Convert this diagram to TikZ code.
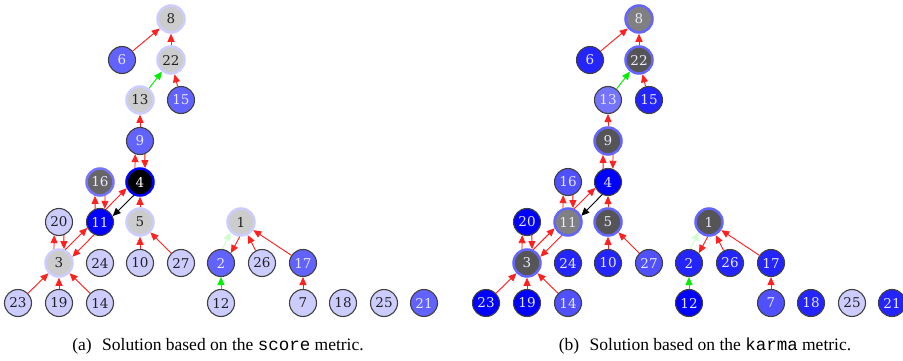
\documentclass[tikz,border=0pt]{standalone}
\usepackage{fontspec}
\setmainfont{Liberation Serif}
\setmonofont{Liberation Mono}
\newfontfamily\nodefont{DejaVu Serif}
\usetikzlibrary{arrows.meta}
\definecolor{cLav}{HTML}{CCCCFF}
\definecolor{cMedA}{HTML}{6262FF}
\definecolor{cBlue}{HTML}{0000FF}
\definecolor{cBtwo}{HTML}{2424FF}
\definecolor{cBfive}{HTML}{5050FF}
\definecolor{cBseven}{HTML}{7474FF}
\definecolor{cGrayL}{HTML}{CCCCCC}
\definecolor{cGrayM}{HTML}{808080}
\definecolor{cGrayD}{HTML}{555555}
\definecolor{cGsix}{HTML}{666666}
\definecolor{cHaloB}{HTML}{6464FF}
\definecolor{cBorder}{HTML}{404040}
\definecolor{cDark}{HTML}{222222}
\definecolor{cLight}{HTML}{E8E8FF}
\definecolor{cRed}{HTML}{FF2020}
\definecolor{cGreen}{HTML}{00EE00}
\definecolor{cPale}{HTML}{CCFFCC}
\newcommand\drawedges[1]{%
  \draw[re] (#16) -- (#18);
  \draw[re] (#122) -- (#18);
  \draw[ge] (#113) -- (#122);
  \draw[re] (#115) -- (#122);
  \draw[re] (#19) -- (#113);
  \draw[re] (#14.110) -- (#19.250);
  \draw[re] (#19.290) -- (#14.70);
  \draw[re] (#111.110) -- (#116.250);
  \draw[re] (#116.290) -- (#111.70);
  \draw[re] (#111.65) -- (#14.205);
  \draw[be] (#14.245) -- (#111.25);
  \draw[re] (#15) -- (#14);
  \draw[re] (#13.110) -- (#120.250);
  \draw[re] (#120.290) -- (#13.70);
  \draw[re] (#13.65) -- (#111.205);
  \draw[re] (#111.245) -- (#13.25);
  \draw[re] (#110) -- (#15);
  \draw[re] (#127) -- (#15);
  \draw[re] (#123) -- (#13);
  \draw[re] (#119) -- (#13);
  \draw[re] (#114) -- (#13);
  \draw[pe] (#12.85) -- (#11.225);
  \draw[re] (#11.265) -- (#12.45);
  \draw[re] (#126) -- (#11);
  \draw[re] (#117) -- (#11);
  \draw[ge] (#112) -- (#12);
  \draw[re] (#17) -- (#117);
}
\begin{document}
\begin{tikzpicture}[x=1pt,y=1pt,
  nbase/.style={circle, minimum size=27pt, inner sep=0pt, font=\nodefont\fontsize{13.5}{13.5}\selectfont},
  plain/.style={nbase, draw=cBorder, line width=1.1pt, fill=#1, text=cLight},
  lav/.style={nbase, draw=cBorder, line width=1.1pt, fill=cLav, text=cDark},
  halo/.style 2 args={nbase, draw=#2, line width=2.5pt, fill=#1, text=cLight},
  haloL/.style={nbase, draw=cLav, line width=2.5pt, fill=cGrayL, text=cDark},
  arrtip/.style={-{Triangle[length=8pt,width=7pt]}},
  re/.style={arrtip, draw=cRed, fill=cRed, line width=0.9pt},
  ge/.style={arrtip, draw=cGreen, fill=cGreen, line width=0.9pt},
  pe/.style={arrtip, draw=cPale, fill=cPale, line width=0.9pt},
  be/.style={arrtip, draw=black, fill=black, line width=0.9pt},
  captext/.style={font=\fontsize{17.5}{20}\selectfont, inner sep=0pt}]
\useasboundingbox (0,0) rectangle (903,360);
% ---------- panel (a) ----------
\node[haloL] (a8) at (171,341) {8};
\node[plain=cMedA] (a6) at (122,300) {6};
\node[haloL] (a22) at (171,300) {22};
\node[haloL] (a13) at (140,260) {13};
\node[plain=cMedA] (a15) at (181,260) {15};
\node[plain=cMedA] (a9) at (140,219) {9};
\node[halo={cGsix}{cBseven}] (a16) at (100,178) {16};
\node[halo={black}{cBlue}, text=white] (a4) at (140,178) {4};
\node[lav] (a20) at (59,138) {20};
\node[plain=cBlue] (a11) at (100,138) {11};
\node[haloL] (a5) at (140,138) {5};
\node[haloL] (a1) at (241,138) {1};
\node[haloL] (a3) at (59,97) {3};
\node[lav] (a24) at (100,97) {24};
\node[lav] (a10) at (140,97) {10};
\node[lav] (a27) at (181,97) {27};
\node[plain=cMedA] (a2) at (221,97) {2};
\node[lav] (a26) at (262,97) {26};
\node[plain=cMedA] (a17) at (303,97) {17};
\node[lav] (a23) at (18,57) {23};
\node[lav] (a19) at (59,57) {19};
\node[lav] (a14) at (100,57) {14};
\node[lav] (a12) at (221,57) {12};
\node[lav] (a7) at (303,57) {7};
\node[lav] (a18) at (343,57) {18};
\node[lav] (a25) at (384,57) {25};
\node[plain=cMedA] (a21) at (424,57) {21};
\drawedges{a}
% ---------- panel (b) ----------
\begin{scope}[xshift=468pt]
\node[halo={cGrayM}{cHaloB}] (b8) at (171,341) {8};
\node[plain=cBtwo] (b6) at (122,300) {6};
\node[halo={cGrayD}{cHaloB}] (b22) at (171,300) {22};
\node[plain=cBseven] (b13) at (140,260) {13};
\node[plain=cBtwo] (b15) at (181,260) {15};
\node[halo={cGrayD}{cHaloB}] (b9) at (140,219) {9};
\node[plain=cBfive] (b16) at (100,178) {16};
\node[plain=cBlue] (b4) at (140,178) {4};
\node[plain=cBlue] (b20) at (59,138) {20};
\node[halo={cGrayM}{cHaloB}] (b11) at (100,138) {11};
\node[halo={cGrayD}{cHaloB}] (b5) at (140,138) {5};
\node[halo={cGrayD}{cHaloB}] (b1) at (241,138) {1};
\node[halo={cGrayD}{cHaloB}] (b3) at (59,97) {3};
\node[plain=cBtwo] (b24) at (100,97) {24};
\node[plain=cBtwo] (b10) at (140,97) {10};
\node[plain=cBfive] (b27) at (181,97) {27};
\node[plain=cBtwo] (b2) at (221,97) {2};
\node[plain=cBtwo] (b26) at (262,97) {26};
\node[plain=cBtwo] (b17) at (303,97) {17};
\node[plain=cBlue] (b23) at (18,57) {23};
\node[plain=cBlue] (b19) at (59,57) {19};
\node[plain=cBfive] (b14) at (100,57) {14};
\node[plain=cBlue] (b12) at (221,57) {12};
\node[plain=cBfive] (b7) at (303,57) {7};
\node[plain=cBtwo] (b18) at (343,57) {18};
\node[lav] (b25) at (384,57) {25};
\node[plain=cBtwo] (b21) at (424,57) {21};
\drawedges{b}
\end{scope}
% ---------- captions ----------
\node[captext] (capa) at (218,14) {(a)\hspace{0.6em}Solution based on the \texttt{score} metric.};
\node[captext] (capb) at (705,14) {(b)\hspace{0.6em}Solution based on the \texttt{karma} metric.};
\end{tikzpicture}
\end{document}
